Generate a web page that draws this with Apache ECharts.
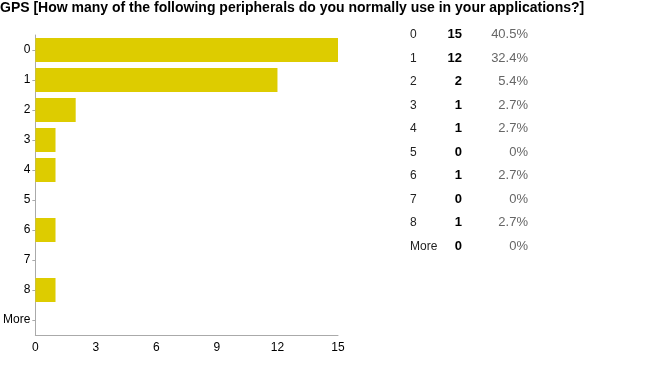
<!DOCTYPE html>
<html>
<head>
<meta charset="utf-8">
<script src="https://cdn.jsdelivr.net/npm/echarts@6/dist/echarts.min.js"></script>
<style>html,body{margin:0;padding:0;background:#fff}#c{width:650px;height:370px}</style>
</head>
<body>
<div id="c"></div>
<script>
const titleText = 'GPS [How many of the following peripherals do you normally use in your applications?]';
const categories = ['0', '1', '2', '3', '4', '5', '6', '7', '8', 'More'];
const counts = [15, 12, 2, 1, 1, 0, 1, 0, 1, 0];
const percents = ['40.5%', '32.4%', '5.4%', '2.7%', '2.7%', '0%', '2.7%', '0%', '2.7%', '0%'];
const xTicks = { min: 0, max: 15, interval: 3 };

const chart = echarts.init(document.getElementById('c'), null, { renderer: 'canvas' });
const font = 'Liberation Sans, Arial, sans-serif';
chart.setOption({
  animation: false,
  title: {
    text: titleText, left: 0, top: 0, padding: [1, 0, 0, 0],
    textStyle: { fontFamily: font, fontSize: 14, fontWeight: 'bold', color: '#000' }
  },
  grid: [
    { left: 34, right: 312, top: 35, bottom: 35 },
    { left: 529, width: 1, top: 23, height: 235 }
  ],
  xAxis: [
    {
      gridIndex: 0, type: 'value', min: xTicks.min, max: xTicks.max, interval: xTicks.interval,
      axisLine: { show: true, lineStyle: { color: '#aaa' } },
      axisTick: { show: false },
      splitLine: { show: false },
      axisLabel: { color: '#000', fontFamily: font, fontSize: 12, margin: 7 }
    },
    { gridIndex: 1, type: 'value', show: false }
  ],
  yAxis: [
    {
      gridIndex: 0, type: 'category', data: categories, inverse: true,
      axisLine: { show: true, lineStyle: { color: '#aaa' } },
      axisTick: { show: true, alignWithLabel: true, length: 3, lineStyle: { color: '#aaa' } },
      axisLabel: { color: '#000', fontFamily: font, fontSize: 12, margin: 5 }
    },
    {
      gridIndex: 1, type: 'category', data: categories, inverse: true,
      axisLine: { show: false }, axisTick: { show: false },
      axisLabel: {
        margin: 1,
        formatter: function (v, i) {
          return '{c|' + v + '}{n|' + counts[i] + '}{p|' + percents[i] + '}';
        },
        rich: {
          c: { width: 30, align: 'left', color: '#222', fontFamily: font, fontSize: 12 },
          n: { width: 22, align: 'right', color: '#000', fontFamily: font, fontSize: 13, fontWeight: 'bold' },
          p: { width: 66, align: 'right', color: '#666', fontFamily: font, fontSize: 13 }
        }
      }
    }
  ],
  series: [{
    type: 'bar', xAxisIndex: 0, yAxisIndex: 0,
    data: counts, barCategoryGap: '20%',
    itemStyle: { color: '#ddcc00' }
  }]
});
</script>
</body>
</html>
